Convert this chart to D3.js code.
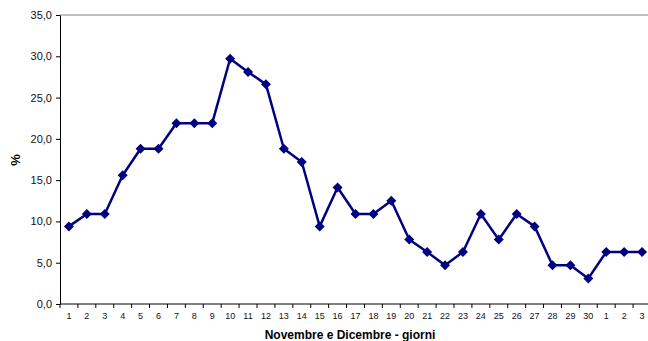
<!DOCTYPE html>
<html>
<head>
<meta charset="utf-8">
<script src="https://cdn.jsdelivr.net/npm/d3@7"></script>
<style>
  body { margin: 0; background: #fff; }
  svg { display: block; font-family: Arial, "Liberation Sans", sans-serif; }
</style>
</head>
<body>
<svg id="chart" width="648" height="341"></svg>
<script>
// giorni: novembre 1-30, poi dicembre 1-3
let days = ['1','2','3','4','5','6','7','8','9','10','11','12','13','14','15','16','17','18','19','20',
            '21','22','23','24','25','26','27','28','29','30','1','2','3']
let values = [9.4, 10.9, 10.9, 15.6, 18.8, 18.8, 21.9, 21.9, 21.9, 29.7, 28.1, 26.6, 18.8, 17.2, 9.4,
              14.1, 10.9, 10.9, 12.5, 7.8, 6.3, 4.7, 6.3, 10.9, 7.8, 10.9, 9.4, 4.7, 4.7, 3.1,
              6.3, 6.3, 6.3]
let yTicks = [0, 5, 10, 15, 20, 25, 30, 35]

let svg = d3.select('#chart')
let margin = {top: 15, left: 60}
let plotW = 591, plotH = 289

let keys = d3.range(days.length)
let x = d3.scaleBand().domain(keys).range([0, plotW])
let y = d3.scaleLinear().domain([0, 35]).range([plotH, 0])
let fmt = v => d3.format('.1f')(v).replace('.', ',')

let g = svg.append('g').attr('transform', 'translate(' + margin.left + ',' + margin.top + ')')

// linea superiore grigia
g.append('line')
    .attr('x1', 0).attr('x2', plotW + 10)
    .attr('y1', y(35)).attr('y2', y(35))
    .attr('stroke', '#808080').attr('stroke-width', 1)

let yAxis = g.append('g')
    .call(d3.axisLeft(y).tickValues(yTicks).tickFormat(fmt).tickSize(4).tickSizeOuter(0))
yAxis.select('.domain').attr('stroke', '#000')
yAxis.selectAll('text').attr('font-size', 11).attr('fill', '#111').attr('dx', -1)

// asse x: tacche ai bordi delle categorie
let xAxis = g.append('g').attr('transform', 'translate(0,' + plotH + ')')
xAxis.append('line').attr('x1', 0).attr('x2', plotW).attr('stroke', '#000')
xAxis.selectAll('.tk').data(keys.concat([days.length]))
    .enter().append('line')
    .attr('x1', d => d < days.length ? x(d) : plotW)
    .attr('x2', d => d < days.length ? x(d) : plotW)
    .attr('y1', 0).attr('y2', 4)
    .attr('stroke', '#000')
xAxis.selectAll('.lbl').data(keys)
    .enter().append('text')
    .attr('x', d => x(d) + x.bandwidth() / 2)
    .attr('y', 15)
    .attr('text-anchor', 'middle')
    .attr('font-size', 9)
    .attr('fill', '#111')
    .text(d => days[d])

let line = d3.line()
    .x((d, i) => x(i) + x.bandwidth() / 2)
    .y(d => y(d))

g.append('path')
    .datum(values)
    .attr('d', line)
    .attr('fill', 'none')
    .attr('stroke', '#000080')
    .attr('stroke-width', 2.5)
    .attr('stroke-linejoin', 'round')

g.selectAll('.pt').data(values)
    .enter().append('path')
    .attr('transform', (d, i) => 'translate(' + (x(i) + x.bandwidth() / 2) + ',' + y(d) + ')')
    .attr('d', 'M0,-5L5,0L0,5L-5,0Z')
    .attr('fill', '#000080')

svg.append('text')
    .attr('transform', 'translate(20,160) rotate(-90)')
    .attr('text-anchor', 'middle')
    .attr('font-size', 13)
    .attr('font-weight', 'bold')
    .text('%')

svg.append('text')
    .attr('x', 350).attr('y', 339)
    .attr('text-anchor', 'middle')
    .attr('font-size', 12)
    .attr('font-weight', 'bold')
    .text('Novembre e Dicembre - giorni')
</script>
</body>
</html>
